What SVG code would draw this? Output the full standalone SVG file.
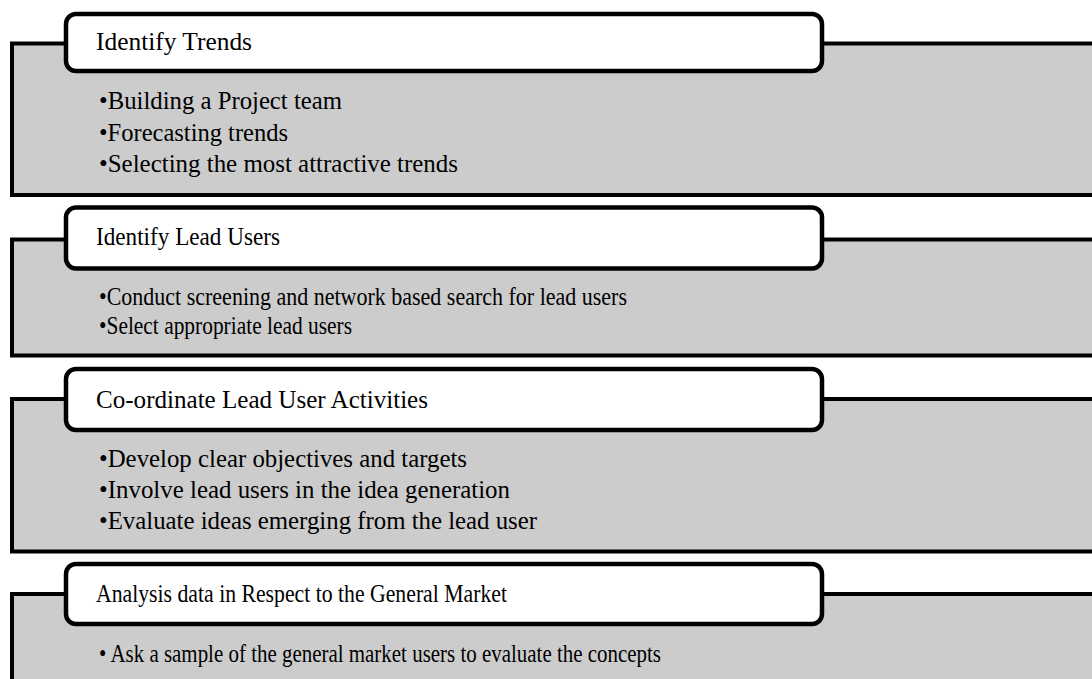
<svg xmlns="http://www.w3.org/2000/svg" width="1092" height="679" viewBox="0 0 1092 679">
  <style>
    .panel { fill: #cccccc; stroke: #000000; stroke-width: 4; }
    .head { fill: #ffffff; stroke: #000000; stroke-width: 4.5; }
    text { font-family: "Liberation Serif", "Times New Roman", serif; font-size: 24.5px; fill: #000000; }
  </style>
  <rect width="1092" height="679" fill="#ffffff"/>

  <g id="step-identify-trends">
    <rect class="panel" x="12" y="43.5" width="1090" height="151.5"/>
    <rect class="head" x="66" y="14" width="756" height="57" rx="10"/>
    <text x="96" y="50" textLength="156" lengthAdjust="spacingAndGlyphs">Identify Trends</text>
    <text x="99" y="109" textLength="243" lengthAdjust="spacingAndGlyphs">•Building a Project team</text>
    <text x="99" y="140.5" textLength="189" lengthAdjust="spacingAndGlyphs">•Forecasting trends</text>
    <text x="99" y="172" textLength="359" lengthAdjust="spacingAndGlyphs">•Selecting the most attractive trends</text>
  </g>

  <g id="step-identify-lead-users">
    <rect class="panel" x="12" y="239.5" width="1090" height="116"/>
    <rect class="head" x="66" y="207.5" width="756" height="61" rx="10"/>
    <text x="96" y="245" textLength="184" lengthAdjust="spacingAndGlyphs">Identify Lead Users</text>
    <text x="99" y="304.5" textLength="528" lengthAdjust="spacingAndGlyphs">•Conduct screening and network based search for lead users</text>
    <text x="99" y="333.5" textLength="253" lengthAdjust="spacingAndGlyphs">•Select appropriate lead users</text>
  </g>

  <g id="step-coordinate-activities">
    <rect class="panel" x="12" y="399" width="1090" height="152.5"/>
    <rect class="head" x="66" y="369" width="756" height="61" rx="10"/>
    <text x="96" y="407.5" textLength="332" lengthAdjust="spacingAndGlyphs">Co-ordinate Lead User Activities</text>
    <text x="99" y="466.5" textLength="368" lengthAdjust="spacingAndGlyphs">•Develop clear objectives and targets</text>
    <text x="99" y="497.5" textLength="411" lengthAdjust="spacingAndGlyphs">•Involve lead users in the idea generation</text>
    <text x="99" y="528.5" textLength="438" lengthAdjust="spacingAndGlyphs">•Evaluate ideas emerging from the lead user</text>
  </g>

  <g id="step-general-market">
    <rect class="panel" x="12" y="594" width="1090" height="100"/>
    <rect class="head" x="66" y="564" width="756" height="60" rx="10"/>
    <text x="96" y="602" textLength="411" lengthAdjust="spacingAndGlyphs">Analysis data in Respect to the General Market</text>
    <text x="99" y="662" textLength="562" lengthAdjust="spacingAndGlyphs">• Ask a sample of the general market users to evaluate the concepts</text>
  </g>

  <g id="connectors"/>
</svg>
